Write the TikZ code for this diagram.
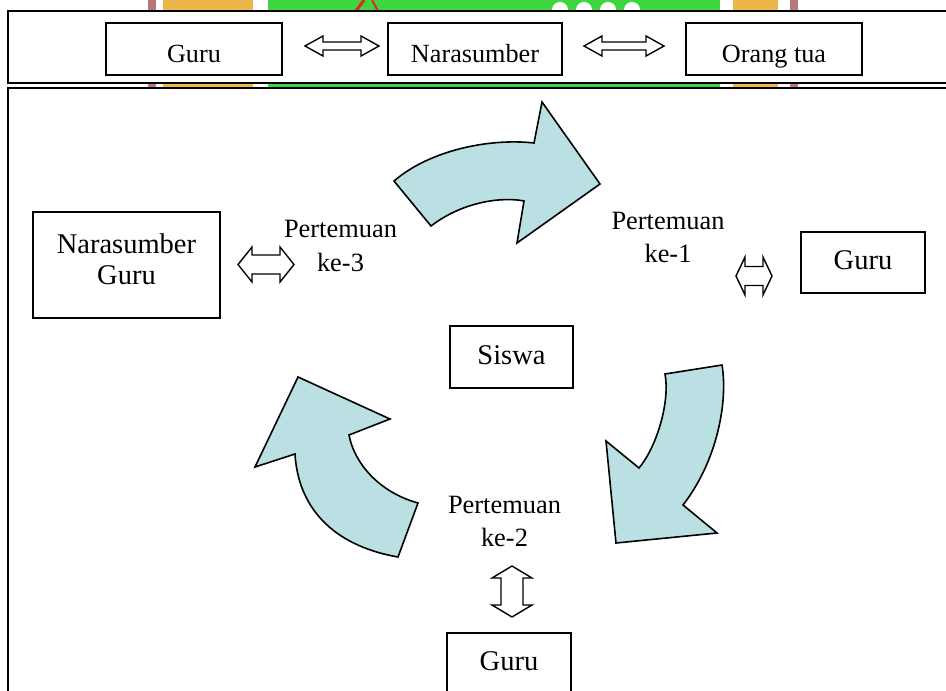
\documentclass[tikz,border=0pt]{standalone}
\usepackage{fontspec}
\setmainfont{Liberation Serif}
\definecolor{arrowblue}{RGB}{186,224,228}
\definecolor{wmgreen}{RGB}{62,214,62}
\definecolor{wmorange}{RGB}{238,182,72}
\definecolor{wmbrown}{RGB}{182,120,120}
\definecolor{wmred}{RGB}{225,40,40}
\newcommand{\hdblarrow}[6]{%
  \path[outl] (#1,#3) -- ({#1+#4},{#3-#5}) -- ({#1+#4},{#3-#6}) -- ({#2-#4},{#3-#6})
   -- ({#2-#4},{#3-#5}) -- (#2,#3) -- ({#2-#4},{#3+#5}) -- ({#2-#4},{#3+#6})
   -- ({#1+#4},{#3+#6}) -- ({#1+#4},{#3+#5}) -- cycle;}
\newcommand{\vdblarrow}[6]{%
  \path[outl] (#3,#1) -- ({#3+#5},{#1+#4}) -- ({#3+#6},{#1+#4}) -- ({#3+#6},{#2-#4})
   -- ({#3+#5},{#2-#4}) -- (#3,#2) -- ({#3-#5},{#2-#4}) -- ({#3-#6},{#2-#4})
   -- ({#3-#6},{#1+#4}) -- ({#3-#5},{#1+#4}) -- cycle;}
\tikzset{
  framebox/.style={draw, line width=2pt, fill=white},
  topbox/.style={draw, line width=1.5pt, fill=white, inner sep=0pt,
    font=\fontsize{26.2}{30}\selectfont, text height=26pt, text depth=0pt,
    minimum height=52pt},
  mainbox/.style={draw, line width=1.5pt, fill=white, inner sep=0pt,
    font=\fontsize{28.5}{31}\selectfont},
  onebox/.style={mainbox, text height=19pt, text depth=5pt},
  lbl/.style={font=\fontsize{26.4}{33.5}\selectfont, align=center, inner sep=0pt, anchor=base},
  outl/.style={draw, line width=1.4pt, fill=white, line join=miter},
  blk/.style={draw, line width=1.6pt, fill=arrowblue, line join=miter}
}
\begin{document}
\begin{tikzpicture}[x=1pt,y=-1pt]
\useasboundingbox (0,0) rectangle (946,691);
\clip (0,0) rectangle (946,691);
% watermark remnants
\fill[wmbrown] (148,0) rectangle (156,95);
\fill[wmorange] (163,0) rectangle (253,95);
\fill[wmgreen] (268,0) rectangle (720,95);
\fill[wmorange] (733,0) rectangle (778,95);
\fill[wmbrown] (790,0) rectangle (798,95);
\draw[wmred, line width=3pt] (356,11) -- (364,0);
\draw[wmred, line width=2pt] (372,0) -- (378,11);
\foreach \cx in {560,584,608,632} \fill[white] (\cx,10) circle (8);
% frames
\path[framebox] (8,88) rectangle (960,700);
\path[framebox] (8,11) rectangle (960,83);
% top row
\node[topbox, minimum width=176pt] (tguru) at (194,49) {Guru};
\node[topbox, minimum width=174pt] (tnara) at (475,49) {Narasumber};
\node[topbox, minimum width=176pt] (tortu) at (774,49) {Orang tua};
\hdblarrow{305}{379}{46}{18}{10}{4}
\hdblarrow{584}{664}{46}{18}{10}{4}
% main boxes
\node[mainbox, align=center, minimum width=187pt, minimum height=106pt] (ngur) at (126.5,265) {Narasumber\\Guru\rule[-12pt]{0pt}{0pt}};
\node[onebox, minimum width=124pt, minimum height=61pt] (guru1) at (863,262.5) {Guru};
\node[onebox, minimum width=123pt, minimum height=62pt] (siswa) at (511.5,357) {Siswa};
\node[onebox, minimum width=124pt, minimum height=60pt] (guru2) at (509,663) {Guru};
% labels (anchor base = baseline of last line)
\node[lbl] (p3) at (340.5,271) {Pertemuan\\ke-3};
\node[lbl] (p1) at (668,262.5) {Pertemuan\\ke-1};
\node[lbl] (p2) at (504.5,546.5) {Pertemuan\\ke-2};
% outline double arrows
\hdblarrow{238}{294}{264.5}{14}{17.5}{9.5}
\hdblarrow{736}{772}{276}{9}{19}{9.5}
\vdblarrow{566}{617}{512}{12}{20}{11}
% curved block arrows
\path[blk] (394,181) .. controls (430,150) and (490,138) .. (534,143)
  -- (542,102) -- (600,184) -- (517,243) -- (524,201)
  .. controls (505,197) and (465,200) .. (431,226) -- cycle;
\path[blk] (665,374) -- (722,365) .. controls (728,400) and (718,460) .. (683,505)
  -- (717,533) -- (616,543) -- (606,441) -- (639,468)
  .. controls (658,445) and (670,400) .. (665,374) -- cycle;
\path[blk] (298,377) -- (390,419) -- (349,435)
  .. controls (354,462) and (378,492) .. (418,503) -- (398,557)
  .. controls (330,545) and (298,505) .. (295,454) -- (255,467) -- cycle;
\end{tikzpicture}
\end{document}
